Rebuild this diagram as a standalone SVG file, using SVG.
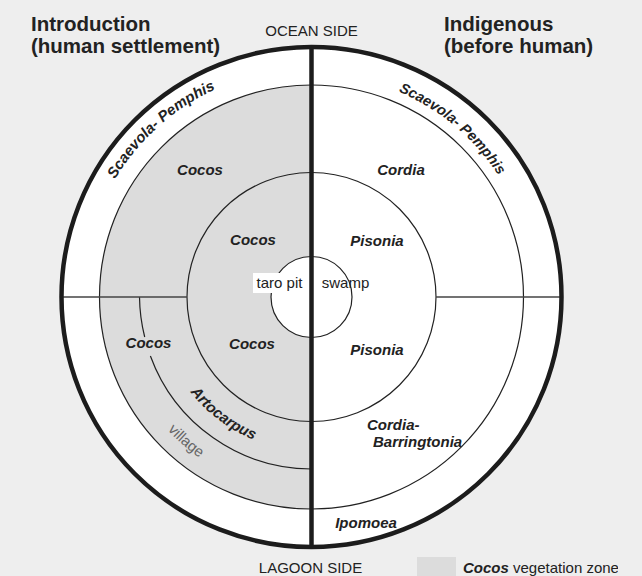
<svg xmlns="http://www.w3.org/2000/svg" width="642" height="576" viewBox="0 0 642 576">
  <defs>
    <style>
      .ring { fill: none; stroke: #222; stroke-width: 1.2; }
      .divider { fill: none; stroke: #444; stroke-width: 1.4; }
      .heavy { fill: none; stroke: #1c1c1c; stroke-width: 4.5; }
      .title { font-family: "Liberation Sans", Arial, sans-serif; font-weight: bold; font-size: 20.5px; fill: #222; }
      .side { font-family: "Liberation Sans", Arial, sans-serif; font-size: 15px; fill: #222; text-anchor: middle; }
      .taxon { font-family: "Liberation Sans", Arial, sans-serif; font-weight: bold; font-style: italic; font-size: 15px; fill: #222; text-anchor: middle; }
      .plain { font-family: "Liberation Sans", Arial, sans-serif; font-size: 15px; fill: #222; text-anchor: middle; }
      .faint { font-family: "Liberation Sans", Arial, sans-serif; font-size: 15px; fill: #666; }
    </style>
    <!-- baselines for the curved labels -->
    <path id="arcScaevolaL" d="M 82.5,297 A 229 229 0 0 1 311.5,68"/>
    <path id="arcScaevolaR" d="M 311.5,74 A 223 223 0 0 1 534.5,297"/>
    <path id="arcArtocarpus" d="M 157.5,297 A 154 154 0 0 0 311.5,451"/>
    <path id="arcVillage" d="M 115.5,297 A 196 196 0 0 0 311.5,493"/>
    <clipPath id="legendClip">
      <rect x="0" y="0" width="618" height="576"/>
    </clipPath>
  </defs>

  <rect x="0" y="0" width="642" height="576" fill="#eeeeee"/>

  <!-- headings -->
  <g id="heading-introduction">
    <text class="title" x="31" y="31">Introduction</text>
    <text class="title" x="31" y="53">(human settlement)</text>
  </g>
  <g id="heading-indigenous">
    <text class="title" x="444" y="31">Indigenous</text>
    <text class="title" x="444" y="53">(before human)</text>
  </g>
  <text class="side" x="311.5" y="36">OCEAN SIDE</text>
  <text class="side" x="310.5" y="573">LAGOON SIDE</text>

  <!-- island disc -->
  <g id="disc">
    <circle cx="311.5" cy="297" r="250" fill="#ffffff"/>
    <path d="M 311.5,85 A 212 212 0 0 0 311.5,509 Z" fill="#dcdcdc"/>
  </g>

  <!-- zone boundaries -->
  <g id="connectors">
    <circle class="ring" cx="311.5" cy="297" r="212"/>
    <circle class="ring" cx="311.5" cy="297" r="124.5"/>
    <path class="ring" d="M 139.5,297 A 172 172 0 0 0 144.7,337"/>
    <path class="ring" d="M 150.4,356 A 172 172 0 0 0 311.5,469"/>
    <line class="divider" x1="62" y1="297" x2="187" y2="297"/>
    <line class="divider" x1="436" y1="297" x2="561" y2="297"/>
  </g>

  <!-- central pit / swamp -->
  <g id="node-center">
    <circle cx="311.5" cy="297" r="40.5" fill="#ffffff" stroke="#222" stroke-width="1.2"/>
    <rect x="253" y="273" width="52" height="20" fill="#ffffff"/>
    <text class="plain" x="279.5" y="288">taro pit</text>
    <text class="plain" x="345.5" y="288">swamp</text>
  </g>

  <line class="heavy" x1="311.5" y1="47" x2="311.5" y2="547"/>
  <circle class="heavy" cx="311.5" cy="297" r="250"/>

  <!-- settlement half -->
  <g id="node-scaevola-left">
    <text class="taxon"><textPath href="#arcScaevolaL" startOffset="53.4%">Scaevola- Pemphis</textPath></text>
  </g>
  <g id="node-cocos-outer-top"><text class="taxon" x="200" y="175">Cocos</text></g>
  <g id="node-cocos-inner-top"><text class="taxon" x="253" y="245">Cocos</text></g>
  <g id="node-cocos-outer-bottom"><text class="taxon" x="148.5" y="348">Cocos</text></g>
  <g id="node-cocos-inner-bottom"><text class="taxon" x="252" y="349">Cocos</text></g>
  <g id="node-artocarpus">
    <text class="taxon"><textPath href="#arcArtocarpus" startOffset="58.9%">Artocarpus</textPath></text>
  </g>
  <g id="node-village">
    <text class="faint" text-anchor="middle"><textPath href="#arcVillage" startOffset="54.4%">village</textPath></text>
  </g>

  <!-- indigenous half -->
  <g id="node-scaevola-right">
    <text class="taxon" style="font-size:14.5px"><textPath href="#arcScaevolaR" startOffset="44.4%">Scaevola- Pemphis</textPath></text>
  </g>
  <g id="node-cordia"><text class="taxon" x="401" y="175">Cordia</text></g>
  <g id="node-pisonia-top"><text class="taxon" x="377" y="246">Pisonia</text></g>
  <g id="node-pisonia-bottom"><text class="taxon" x="377" y="355">Pisonia</text></g>
  <g id="node-cordia-barringtonia">
    <text class="taxon" style="text-anchor:start" x="367" y="430">Cordia-</text>
    <text class="taxon" style="text-anchor:start" x="373" y="447">Barringtonia</text>
  </g>
  <g id="node-ipomoea"><text class="taxon" x="366" y="528">Ipomoea</text></g>

  <!-- legend -->
  <g id="legend" clip-path="url(#legendClip)">
    <rect x="417" y="557" width="39" height="19" fill="#dcdcdc"/>
    <text class="plain" style="text-anchor:start" x="463" y="573"><tspan font-weight="bold" font-style="italic">Cocos</tspan> vegetation zone</text>
  </g>
</svg>
